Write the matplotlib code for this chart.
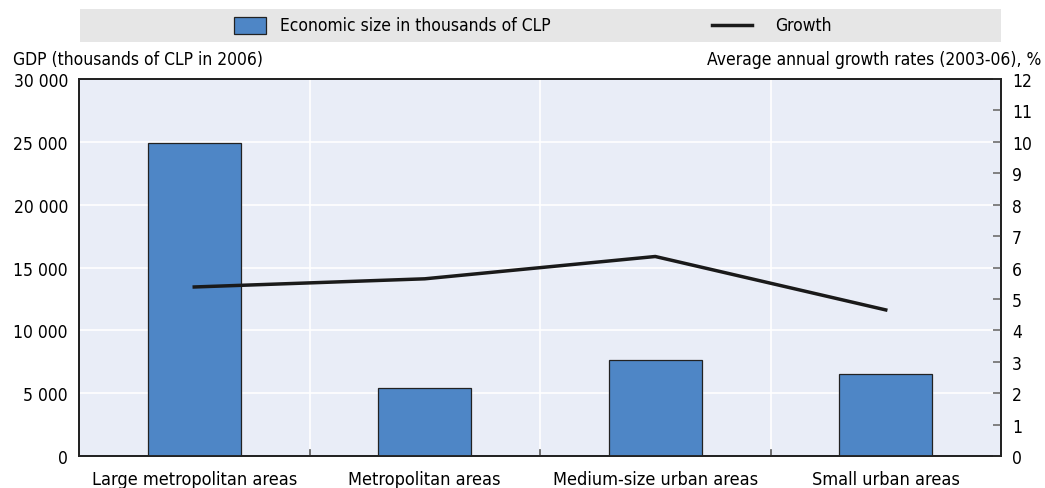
import matplotlib.pyplot as plt
from matplotlib.patches import Rectangle
from matplotlib.lines import Line2D
import numpy as np

plt.rcParams['font.family'] = ['DejaVu Sans']
plt.rcParams['font.stretch'] = 'condensed'

categories = ["Large metropolitan areas", "Metropolitan areas",
              "Medium-size urban areas", "Small urban areas"]
gdp = [24900, 5450, 7650, 6500]
growth = [5.38, 5.64, 6.35, 4.65]

left_ticks = [0, 5000, 10000, 15000, 20000, 25000, 30000]
left_labels = ["0", "5 000", "10 000", "15 000", "20 000", "25 000", "30 000"]
right_ticks = list(range(0, 13))

bar_color = "#4E86C6"
bg_color = "#E9EDF7"
W, H = 1045, 489

fig = plt.figure(figsize=(10.45, 4.89), dpi=100)
ax = fig.add_axes([79 / W, 32 / H, 922 / W, 377 / H])
ax.set_facecolor(bg_color)

x = np.arange(len(categories))
ax.bar(x, gdp, width=0.405, color=bar_color, edgecolor="#222222", linewidth=0.9, zorder=3)
ax.set_xlim(-0.5, len(categories) - 0.5)
ax.set_ylim(0, 30000)
ax.set_yticks(left_ticks)
ax.set_yticklabels(left_labels, fontsize=12.5)
ax.set_xticks(x)
ax.set_xticklabels(categories, fontsize=13)
ax.tick_params(axis="x", length=0, pad=10)
ax.tick_params(axis="y", length=0, pad=8)

# grid: horizontal at left ticks, vertical at category boundaries
for v in left_ticks[1:-1]:
    ax.axhline(v, color="white", linewidth=1.2, zorder=1)
for b in np.arange(0.5, len(categories) - 0.5, 1):
    ax.axvline(b, color="white", linewidth=1.2, zorder=1)
    ax.plot([b, b], [0, 450], color="#555555", linewidth=1.2, zorder=4)

for s in ax.spines.values():
    s.set_color("#222222")
    s.set_linewidth(1.3)

ax2 = ax.twinx()
ax2.plot(x, growth, color="#1a1a1a", linewidth=2.5, zorder=5)
ax2.set_ylim(0, 12)
ax2.set_yticks(right_ticks)
ax2.set_yticklabels([str(t) for t in right_ticks], fontsize=12.5)
ax2.tick_params(axis="y", direction="in", length=6, width=1.3, color="#777777", pad=8)
for s in ax2.spines.values():
    s.set_color("#222222")
    s.set_linewidth(1.3)

fig.text(13 / W, 1 - 60 / H, "GDP (thousands of CLP in 2006)", fontsize=12.5, ha="left", va="center")
fig.text(1041 / W, 1 - 60 / H, "Average annual growth rates (2003-06), %", fontsize=12.5,
         ha="right", va="center")

# legend band
fig.patches.append(Rectangle((80 / W, 1 - 43 / H), 921 / W, 33 / H, transform=fig.transFigure,
                             facecolor="#E6E6E6", edgecolor="none", zorder=0))
fig.patches.append(Rectangle((234 / W, 1 - 35 / H), 32 / W, 17 / H, transform=fig.transFigure,
                             facecolor=bar_color, edgecolor="#222222", linewidth=0.9, zorder=1))
fig.text(280 / W, 1 - 26 / H, "Economic size in thousands of CLP", fontsize=12.5, va="center")
fig.lines.append(Line2D([712 / W, 752 / W], [1 - 26 / H, 1 - 26 / H], transform=fig.transFigure,
                        color="#1a1a1a", linewidth=2.5))
fig.text(775 / W, 1 - 26 / H, "Growth", fontsize=12.5, va="center")

fig.savefig("out.png", dpi=100)
